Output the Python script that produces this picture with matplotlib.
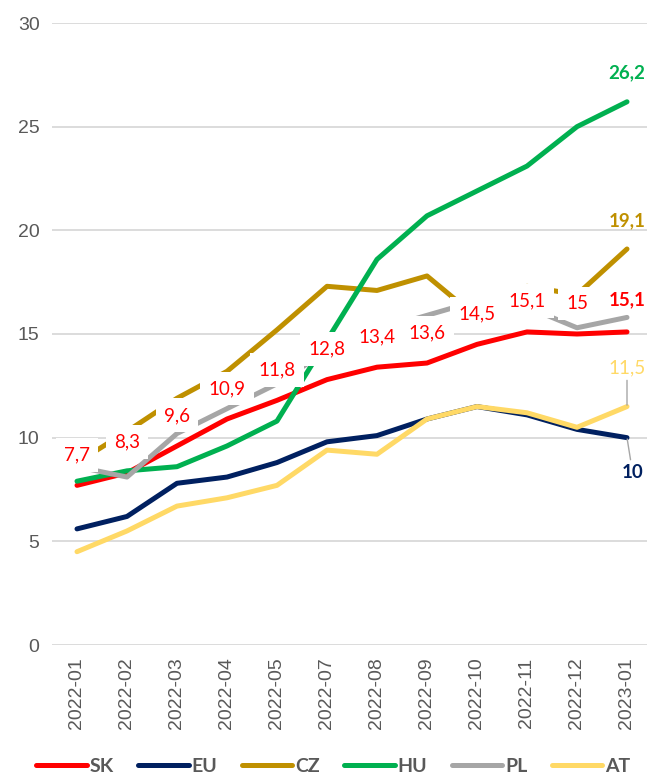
import matplotlib.pyplot as plt

# monthly values (2022-06 is missing in the source)
months = ['2022-01', '2022-02', '2022-03', '2022-04', '2022-05', '2022-07',
          '2022-08', '2022-09', '2022-10', '2022-11', '2022-12', '2023-01']

sk = [7.7, 8.3, 9.6, 10.9, 11.8, 12.8, 13.4, 13.6, 14.5, 15.1, 15.0, 15.1]
eu = [5.6, 6.2, 7.8, 8.1, 8.8, 9.8, 10.1, 10.9, 11.5, 11.1, 10.4, 10.0]
cz = [8.8, 10.3, 11.9, 13.2, 15.2, 17.3, 17.1, 17.8, 15.8, 17.3, 16.9, 19.1]
hu = [7.9, 8.4, 8.6, 9.6, 10.8, 14.7, 18.6, 20.7, 21.9, 23.1, 25.0, 26.2]
pl = [8.6, 8.1, 10.2, 11.4, 12.6, 14.2, 15.2, 15.9, 16.6, 16.3, 15.3, 15.8]
at = [4.5, 5.5, 6.7, 7.1, 7.7, 9.4, 9.2, 10.9, 11.5, 11.2, 10.5, 11.5]

series = [('SK', sk, '#FF0000'), ('EU', eu, '#002060'), ('CZ', cz, '#BF9000'),
          ('HU', hu, '#00B050'), ('PL', pl, '#A6A6A6'), ('AT', at, '#FFD966')]


def fmt(v):
    return f'{v:g}'.replace('.', ',')


fig = plt.figure(figsize=(6.47, 7.77), dpi=100)
ax = fig.add_axes([52 / 647, 1 - 645 / 777, 1 - 52 / 647, (645 - 23) / 777])

x = list(range(len(months)))
for name, vals, col in series:
    ax.plot(x, vals, color=col, lw=3.6, label=name, solid_capstyle='round', zorder=3)

ax.set_ylim(0, 30)
ax.set_xlim(-0.5, 11.4)
ax.set_yticks(range(0, 31, 5))
ax.set_xticks(x)
ax.set_xticklabels(months, rotation=90)
ax.tick_params(length=0, labelsize=14, labelcolor='#595959', pad=9)
ax.grid(axis='y', color='#D9D9D9', lw=1.3, zorder=0)
for s in ax.spines.values():
    s.set_visible(False)
for lab in ax.get_xticklabels() + ax.get_yticklabels():
    lab.set_family('Liberation Sans')

# SK data labels in white boxes
box = dict(boxstyle='square,pad=0.45', fc='white', ec='none')
for i, v in enumerate(sk[:-1]):
    ax.annotate(fmt(v), (i, v), xytext=(0, 22), textcoords='offset points',
                ha='center', va='center', color='#FF0000', fontsize=13.5,
                family='Lato', bbox=box, zorder=6)

# end-of-line labels
last = len(months) - 1
end_kw = dict(textcoords='offset points', ha='center', va='center',
              fontsize=13.5, family='Lato', zorder=6)
lead = dict(arrowstyle='-', color='#A6A6A6', lw=1, shrinkA=1, shrinkB=1)
ax.annotate(fmt(sk[-1]), (last, sk[-1]), xytext=(0, 23), color='#FF0000',
            weight='bold', bbox=dict(boxstyle='square,pad=0.2', fc='white', ec='none'), **end_kw)
ax.annotate(fmt(hu[-1]), (last, hu[-1]), xytext=(0, 21), color='#00B050',
            weight='bold', **end_kw)
ax.annotate(fmt(cz[-1]), (last, cz[-1]), xytext=(0, 20), color='#BF9000',
            weight='bold', **end_kw)
ax.annotate(fmt(at[-1]), (last, at[-1]), xytext=(0, 28), color='#FFD966',
            arrowprops=lead, **end_kw)
ax.annotate(fmt(eu[-1]), (last, eu[-1]), xytext=(4, -25), color='#002060',
            weight='bold', arrowprops=lead, **end_kw)

leg = fig.legend(loc='center', bbox_to_anchor=(0.515, 1 - 766 / 777), ncol=6,
                 frameon=False, handlelength=2.6, handletextpad=0.15,
                 columnspacing=1.25, prop={'family': 'Lato', 'weight': 'bold', 'size': 14})
for t in leg.get_texts():
    t.set_color('#595959')

fig.savefig('out.png', dpi=100)
